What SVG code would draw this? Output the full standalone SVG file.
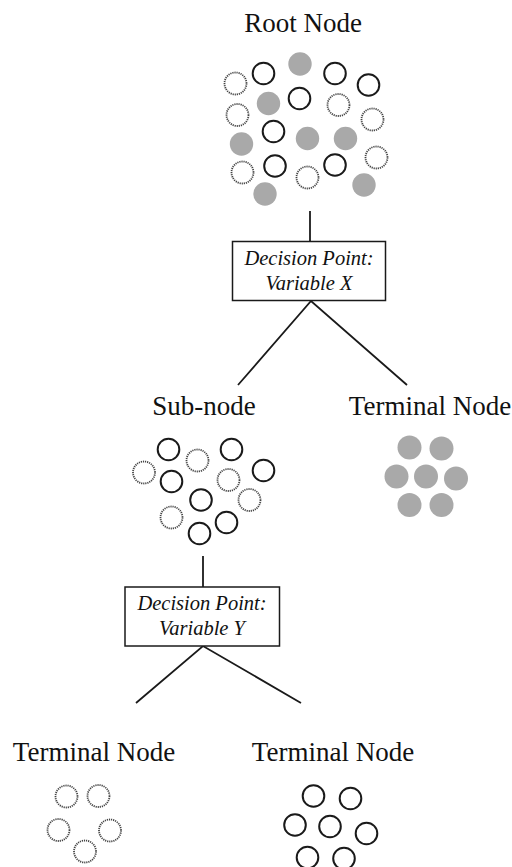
<svg xmlns="http://www.w3.org/2000/svg" width="512" height="867" viewBox="0 0 512 867">
<style>
.t{font-family:"Liberation Serif","Times New Roman",serif;font-size:27px;fill:#111;text-anchor:middle}
.d{font-family:"Liberation Serif","Times New Roman",serif;font-size:20.5px;font-style:italic;fill:#111;text-anchor:middle}
.b{fill:none;stroke:#1a1a1a;stroke-width:2}
.o{fill:none;stroke:#444;stroke-width:1.8;stroke-dasharray:1.2 0.9}
.g{fill:#a9a9a9}
.box{fill:#fff;stroke:#1a1a1a;stroke-width:1.5}
.c{stroke:#1a1a1a;stroke-width:1.8;fill:none}
</style>
<rect width="512" height="867" fill="#fff"/>
<g id="connectors">
<line class="c" x1="310" y1="211" x2="310" y2="241"/>
<polyline class="c" points="238,385 311,301 407,385"/>
<line class="c" x1="203" y1="556" x2="203" y2="587"/>
<polyline class="c" points="136,703 203,646 301,703"/>
</g>
<g id="root">
<text class="t" x="303" y="32">Root Node</text>
<circle class="o" cx="235.5" cy="83.5" r="11"/>
<circle class="b" cx="263.5" cy="73.5" r="10.8"/>
<circle class="g" cx="300" cy="64" r="11.7"/>
<circle class="b" cx="335" cy="73.5" r="10.8"/>
<circle class="b" cx="368.5" cy="85" r="10.8"/>
<circle class="g" cx="268.5" cy="103.5" r="11.7"/>
<circle class="b" cx="299.5" cy="98.5" r="10.8"/>
<circle class="o" cx="338.5" cy="105" r="11"/>
<circle class="o" cx="237.5" cy="115" r="11"/>
<circle class="o" cx="372.5" cy="119.5" r="11"/>
<circle class="b" cx="273.5" cy="131.5" r="10.8"/>
<circle class="g" cx="241.5" cy="144" r="11.7"/>
<circle class="g" cx="307.5" cy="138.5" r="11.7"/>
<circle class="g" cx="345.5" cy="138.5" r="11.7"/>
<circle class="o" cx="376.5" cy="157.5" r="11"/>
<circle class="b" cx="275" cy="166" r="10.8"/>
<circle class="b" cx="335" cy="165" r="10.8"/>
<circle class="o" cx="242.5" cy="172.5" r="11"/>
<circle class="o" cx="307.5" cy="177.5" r="11"/>
<circle class="g" cx="364" cy="185" r="11.7"/>
<circle class="g" cx="265" cy="194" r="11.7"/>
</g>
<g id="decisionX">
<rect class="box" x="232.5" y="241.5" width="153" height="59"/>
<text class="d" x="309" y="265">Decision Point:</text>
<text class="d" x="309" y="290">Variable X</text>
</g>
<g id="subnode">
<text class="t" x="204" y="415">Sub-node</text>
<circle class="b" cx="168.5" cy="449.5" r="10.8"/>
<circle class="o" cx="197.5" cy="460.5" r="11"/>
<circle class="b" cx="231.5" cy="449.5" r="10.8"/>
<circle class="o" cx="144" cy="472.5" r="11"/>
<circle class="b" cx="263.5" cy="470.5" r="10.8"/>
<circle class="b" cx="171.5" cy="481.5" r="10.8"/>
<circle class="o" cx="228.5" cy="480" r="11"/>
<circle class="b" cx="201" cy="500" r="10.8"/>
<circle class="o" cx="249.5" cy="500" r="11"/>
<circle class="o" cx="171.5" cy="517.5" r="11"/>
<circle class="b" cx="226.5" cy="522.5" r="10.8"/>
<circle class="b" cx="199.5" cy="533.5" r="10.8"/>
</g>
<g id="terminal1">
<text class="t" x="430" y="415">Terminal Node</text>
<circle class="g" cx="409.5" cy="447.5" r="12"/>
<circle class="g" cx="441.5" cy="448.5" r="12"/>
<circle class="g" cx="396.5" cy="476.5" r="12"/>
<circle class="g" cx="426" cy="476.5" r="12"/>
<circle class="g" cx="456" cy="478.5" r="12"/>
<circle class="g" cx="409.5" cy="505" r="12"/>
<circle class="g" cx="441.5" cy="505" r="12"/>
</g>
<g id="decisionY">
<rect class="box" x="125" y="587" width="154.5" height="59"/>
<text class="d" x="202" y="610">Decision Point:</text>
<text class="d" x="202" y="635">Variable Y</text>
</g>
<g id="terminal2">
<text class="t" x="94" y="761">Terminal Node</text>
<circle class="o" cx="66.5" cy="796.5" r="11"/>
<circle class="o" cx="98.5" cy="796" r="11"/>
<circle class="o" cx="58.5" cy="830" r="11"/>
<circle class="o" cx="110" cy="830.5" r="11"/>
<circle class="o" cx="85" cy="851.5" r="11"/>
</g>
<g id="terminal3">
<text class="t" x="333" y="761">Terminal Node</text>
<circle class="b" cx="313.5" cy="796" r="10.8"/>
<circle class="b" cx="350.5" cy="798.5" r="10.8"/>
<circle class="b" cx="295" cy="825" r="10.8"/>
<circle class="b" cx="330" cy="826.5" r="10.8"/>
<circle class="b" cx="366.5" cy="833.5" r="10.8"/>
<circle class="b" cx="307.5" cy="857.5" r="10.8"/>
<circle class="b" cx="344" cy="858.5" r="10.8"/>
</g>
</svg>
